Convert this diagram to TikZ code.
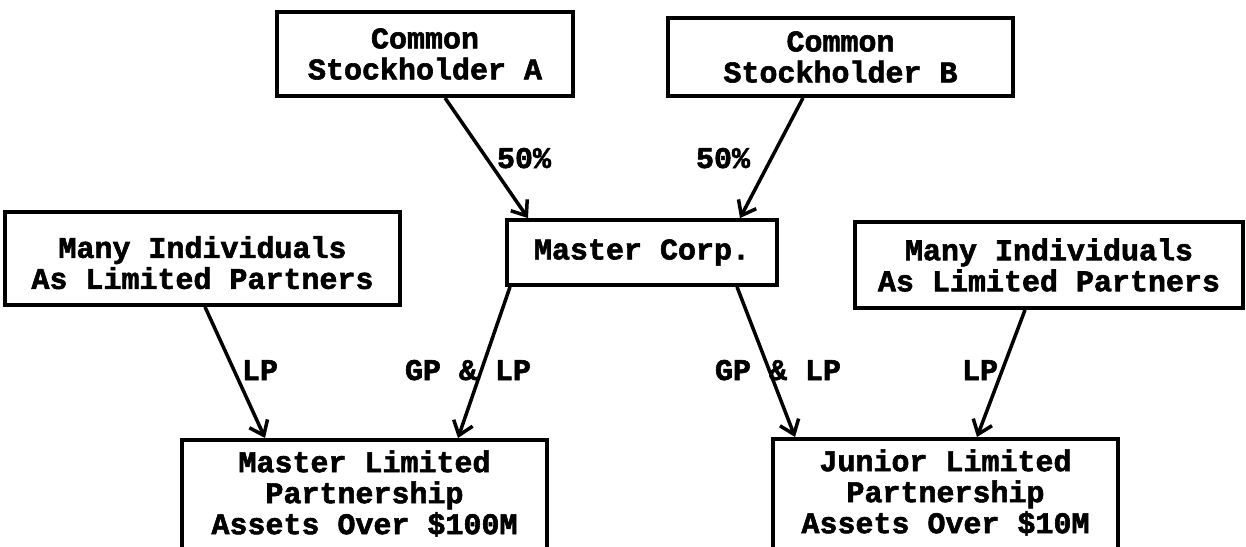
\documentclass[tikz,border=0pt]{standalone}
\usepackage{fontspec}
\setmonofont[BoldFeatures={FakeBold=2}]{Liberation Mono}
\usetikzlibrary{arrows.meta}
\begin{document}
\begin{tikzpicture}[x=1pt,y=-1pt,
  txt/.style={font=\ttfamily\bfseries\fontsize{30}{31}\selectfont},
  box/.style={txt,draw,line width=3.8pt,align=center,inner sep=0pt},
  lbl/.style={txt,inner sep=0pt,anchor=base},
  conn/.style={line width=3.5pt,-{Straight Barb[length=13pt,width=20pt,line width=3.5pt]}}]
\useasboundingbox (0,0) rectangle (1246,546);
\clip (0,0) rectangle (1246,546);
\fill[white] (0,0) rectangle (1246,546);

% boxes
\node[box,minimum width=296pt,minimum height=84pt] (sha) at (425,54) {Common\\Stockholder A};
\node[box,minimum width=345pt,minimum height=78pt] (shb) at (840.5,57) {Common\\Stockholder B};
\node[box,minimum width=270pt,minimum height=65pt] (mc) at (642,252.5) {Master Corp.};
\node[box,minimum width=395pt,minimum height=93pt] (mil) at (202.5,258.5) {\rule{0pt}{30pt}Many Individuals\\As Limited Partners};
\node[box,minimum width=388pt,minimum height=86pt] (mir) at (1049,265) {Many Individuals\\As Limited Partners};
\node[box,minimum width=365pt,inner ysep=10.5pt,anchor=north] (mlp) at (364.5,438) {Master Limited\\Partnership\\Assets Over \$100M\rule[-40pt]{0pt}{40pt}};
\node[box,minimum width=345pt,inner ysep=10.5pt,anchor=north] (jlp) at (945.5,437) {Junior Limited\\Partnership\\Assets Over \$10M\rule[-40pt]{0pt}{40pt}};

% connectors
\draw[conn] ([xshift=20pt]sha.south) -- ([xshift=-114pt]mc.north);
\draw[conn] ([xshift=-37.5pt]shb.south) -- ([xshift=98pt]mc.north);
\draw[conn] ([xshift=2.5pt]mil.south) -- ([xshift=-99.5pt]mlp.north);
\draw[conn] ([xshift=-132pt]mc.south) -- ([xshift=93.5pt]mlp.north);
\draw[conn] ([xshift=95pt]mc.south) -- ([xshift=-150.5pt]jlp.north);
\draw[conn] ([xshift=-24pt]mir.south) -- ([xshift=31.5pt]jlp.north);

% labels
\node[lbl] (la) at (524,168) {50\%};
\node[lbl] (lb) at (723,168) {50\%};
\node[lbl] (l1) at (260,380) {LP};
\node[lbl] (l2) at (468,380) {GP \& LP};
\node[lbl] (l3) at (778,380) {GP \& LP};
\node[lbl] (l4) at (980,380) {LP};
\end{tikzpicture}
\end{document}
